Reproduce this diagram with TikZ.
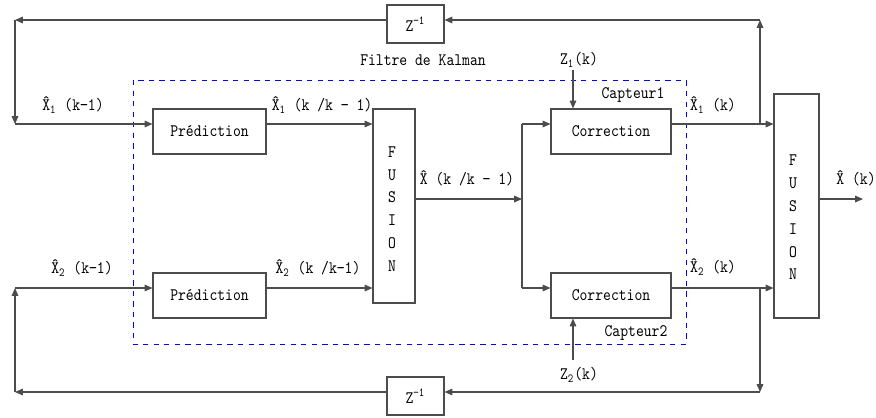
\documentclass[tikz,border=0pt]{standalone}
\usepackage{fontspec}
\newfontfamily\diagfont{lmmono10-regular.otf}[FakeStretch=0.85]
\usetikzlibrary{arrows.meta}
\newcommand\Xh{\accent"02C6 X}

\begin{document}
\begin{tikzpicture}[x=0.02cm,y=-0.02cm,
  box/.style={draw=black!70,line width=0.6pt,inner sep=0pt},
  sig/.style={draw=black!70,line width=0.6pt,-{Triangle[length=4.5pt,width=3.8pt]}},
  txt/.style={inner sep=0pt,font=\diagfont\fontsize{10}{12}\selectfont},
  vtxt/.style={inner sep=0pt,align=center,font=\diagfont\fontsize{10}{13}\selectfont}]
\useasboundingbox (0,0) rectangle (876,417);

% Kalman frame
\draw[blue,dashed,line width=0.5pt] (133,80) rectangle (686,344);

% blocks
\node[box,txt,minimum width=113*0.02cm,minimum height=45*0.02cm] (P1) at (209.5,131.5) {Prédiction};
\node[box,txt,minimum width=113*0.02cm,minimum height=45*0.02cm] (P2) at (209.5,295.5) {Prédiction};
\node[box,txt,minimum width=120*0.02cm,minimum height=45*0.02cm] (C1) at (611,131.5) {Correction};
\node[box,txt,minimum width=120*0.02cm,minimum height=45*0.02cm] (C2) at (611,295.5) {Correction};
\node[box,minimum width=42*0.02cm,minimum height=194*0.02cm] (F1) at (394,206) {};
\node[box,minimum width=45*0.02cm,minimum height=224*0.02cm] (F2) at (796.5,206) {};
\node[vtxt] (F1t) at (392,209) {F\\U\\S\\I\\O\\N};
\node[vtxt] (F2t) at (793,217.5) {F\\U\\S\\I\\O\\N};
\node[box,txt,minimum width=57*0.02cm,minimum height=38*0.02cm] (Z1) at (415.5,24) {Z\textsuperscript{−1}};
\node[box,txt,minimum width=57*0.02cm,minimum height=38*0.02cm] (Z2) at (415.5,396) {Z\textsuperscript{−1}};

% corners and branch points
\coordinate (A1) at (15,124);
\coordinate (T1) at (15,20);
\coordinate (A2) at (15,288);
\coordinate (T2) at (15,392);
\coordinate (B1) at (760,124);
\coordinate (R1) at (760,20);
\coordinate (B2) at (760,288);
\coordinate (R2) at (760,392);
\coordinate (S) at (522,199);
\coordinate (S1) at (522,124);
\coordinate (S2) at (522,288);
\coordinate (Out) at (863,199);
\coordinate (Zin1) at (573,70);
\coordinate (Zin2) at (573,360);

% signals
\draw[sig] (A1) -- (A1 -| P1.west);
\draw[sig] (A2) -- (A2 -| P2.west);
\draw[sig] (A1 -| P1.east) -- (A1 -| F1.west);
\draw[sig] (A2 -| P2.east) -- (A2 -| F1.west);
\draw[sig] (S -| F1.east) -- (S);
\draw[draw=black!70,line width=0.6pt] (S1) -- (S2);
\draw[sig] (S1) -- (S1 -| C1.west);
\draw[sig] (S2) -- (S2 -| C2.west);
\draw[sig] (S1 -| C1.east) -- (S1 -| F2.west);
\draw[sig] (S2 -| C2.east) -- (S2 -| F2.west);
\draw[sig] (S -| F2.east) -- (Out);
\draw[sig] (Zin1) -- (Zin1 |- C1.north);
\draw[sig] (Zin2) -- (Zin2 |- C2.south);

% feedback loops
\draw[sig] (B1) -- (R1);
\draw[sig] (R1) -- (R1 -| Z1.east);
\draw[sig] (R1 -| Z1.west) -- (T1);
\draw[sig] (T1) -- (A1);
\draw[sig] (B2) -- (R2);
\draw[sig] (R2) -- (R2 -| Z2.east);
\draw[sig] (R2 -| Z2.west) -- (T2);
\draw[sig] (T2) -- (A2);

% labels
\node[txt] (x1in) at (73,105) {\Xh\textsubscript{1} (k−1)};
\node[txt] (x2in) at (82,268) {\Xh\textsubscript{2} (k−1)};
\node[txt] (x1p) at (322,105) {\Xh\textsubscript{1} (k /k − 1)};
\node[txt] (x2p) at (318,268) {\Xh\textsubscript{2} (k /k−1)};
\node[txt] (xp) at (467,178) {\Xh\ (k /k − 1)};
\node[txt] (x1c) at (713,105) {\Xh\textsubscript{1} (k)};
\node[txt] (x2c) at (713,267) {\Xh\textsubscript{2} (k)};
\node[txt] (xo) at (856,178) {\Xh\ (k)};
\node[txt] (z1k) at (579,60) {Z\textsubscript{1}(k)};
\node[txt] (z2k) at (579,375) {Z\textsubscript{2}(k)};
\node[txt] (cap1) at (633,95) {Capteur1};
\node[txt] (cap2) at (636,333) {Capteur2};
\node[txt] (kal) at (423,60) {Filtre de Kalman};
\end{tikzpicture}
\end{document}
